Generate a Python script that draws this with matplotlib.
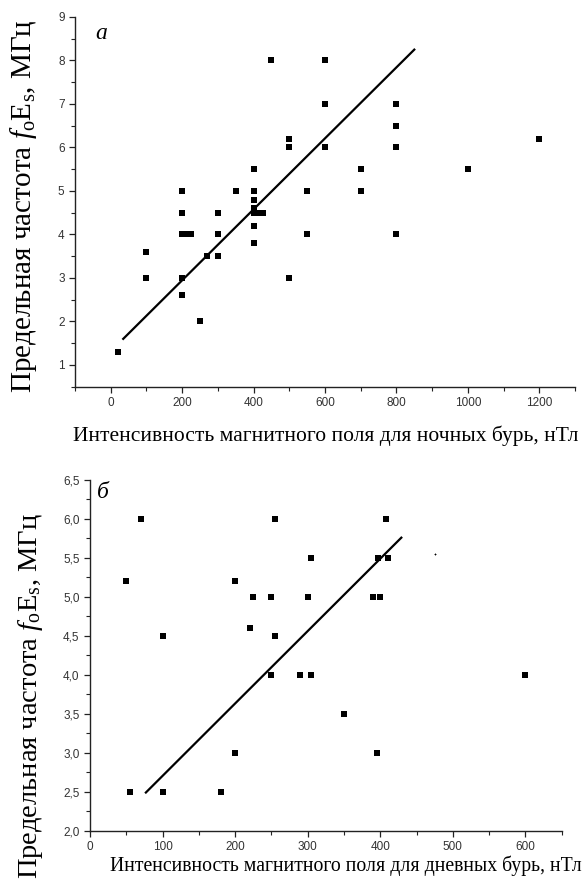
import numpy as np
import matplotlib
matplotlib.use("Agg")
import matplotlib.pyplot as plt
from matplotlib.ticker import MultipleLocator, FixedLocator

plt.rcParams['font.family'] = ['Liberation Serif', 'DejaVu Serif']
plt.rcParams['mathtext.fontset'] = 'custom'
plt.rcParams['mathtext.rm'] = 'Liberation Serif'
plt.rcParams['mathtext.it'] = 'Liberation Serif:italic'

# (a) night storms
night_x = [20, 100, 100, 200, 200, 200, 212, 225, 200, 200, 250, 270, 300, 300, 300,
           350, 400, 400, 400, 400, 400, 412, 425, 400, 400, 450, 500, 500, 500,
           550, 550, 600, 600, 600, 700, 700, 800, 800, 800, 800, 1000, 1200]
night_y = [1.3, 3.6, 3.0, 5.0, 4.5, 4.0, 4.0, 4.0, 3.0, 2.6, 2.0, 3.5, 4.5, 4.0, 3.5,
           5.0, 5.5, 5.0, 4.8, 4.6, 4.5, 4.5, 4.5, 4.2, 3.8, 8.0, 6.2, 6.0, 3.0,
           5.0, 4.0, 8.0, 7.0, 6.0, 5.5, 5.0, 7.0, 6.5, 6.0, 4.0, 5.5, 6.2]
night_fit_x = [35, 850]
night_fit_y = [1.6, 8.25]

# (б) day storms
day_x = [50, 70, 55, 100, 100, 180, 200, 200, 220, 225, 250, 250, 255, 255,
         290, 300, 305, 305, 350, 397, 408, 410, 390, 400, 395, 600]
day_y = [5.2, 6.0, 2.5, 4.5, 2.5, 2.5, 5.2, 3.0, 4.6, 5.0, 5.0, 4.0, 6.0, 4.5,
         4.0, 5.0, 4.0, 5.5, 3.5, 5.5, 6.0, 5.5, 5.0, 5.0, 3.0, 4.0]
day_speck = ([476], [5.55])
day_fit_x = [77, 429]
day_fit_y = [2.49, 5.76]

xticks_a = [0, 200, 400, 600, 800, 1000, 1200]
yticks_a = [1, 2, 3, 4, 5, 6, 7, 8, 9]
xticks_b = [0, 100, 200, 300, 400, 500, 600]
yticks_b = [2.0, 2.5, 3.0, 3.5, 4.0, 4.5, 5.0, 5.5, 6.0, 6.5]
ylabels_b = ["2,0", "2,5", "3,0", "3,5", "4,0", "4,5", "5,0", "5,5", "6,0", "6,5"]

ylabel = r"Предельная частота $\mathit{f}_{\mathrm{o}}\mathrm{E}_{\mathrm{s}}$, МГц"

W, H = 587, 890
fig = plt.figure(figsize=(W / 100, H / 100), dpi=100)

def px_axes(l, t, r, b):
    return fig.add_axes([l / W, 1 - b / H, (r - l) / W, (b - t) / H])

ax1 = px_axes(75, 17, 575, 386.7)
ax2 = px_axes(90, 480, 561.7, 830.7)

tick_font = dict(family='Liberation Sans', size=8.5, color='#333333')

for ax in (ax1, ax2):
    ax.spines['top'].set_visible(False)
    ax.spines['right'].set_visible(False)
    for s in ('left', 'bottom'):
        ax.spines[s].set_linewidth(1.0)
        ax.spines[s].set_color('#222222')
    ax.tick_params(which='major', direction='out', length=4.5, width=0.9, color='#222222', pad=3)
    ax.tick_params(which='minor', direction='out', length=3, width=0.8, color='#222222')

# top panel
ax1.scatter(night_x, night_y, marker='s', s=24, color='black', linewidths=0, zorder=3)
ax1.plot(night_fit_x, night_fit_y, color='black', lw=1.6)
ax1.set_xlim(-100, 1300)
ax1.set_ylim(0.5, 9)
ax1.xaxis.set_major_locator(FixedLocator(xticks_a))
ax1.xaxis.set_minor_locator(MultipleLocator(100))
ax1.yaxis.set_major_locator(FixedLocator(yticks_a))
ax1.yaxis.set_minor_locator(MultipleLocator(0.5))
ax1.set_xticklabels([str(v) for v in xticks_a], **tick_font)
ax1.set_yticklabels([str(v) for v in yticks_a], **tick_font)
ax1.set_xlabel("Интенсивность магнитного поля для ночных бурь, нТл", fontsize=15.5)
ax1.xaxis.set_label_coords(0.502, -0.106)
ax1.set_ylabel(ylabel, fontsize=21)
ax1.yaxis.set_label_coords(-0.072, 0.489)
ax1.text(0.04, 0.955, "a", transform=ax1.transAxes, fontsize=17, style='italic',
         va='center', ha='left')

# bottom panel
ax2.scatter(day_x, day_y, marker='s', s=24, color='black', linewidths=0, zorder=3)
ax2.scatter(*day_speck, marker='+', s=4, color='black', linewidths=0.6)
ax2.plot(day_fit_x, day_fit_y, color='black', lw=1.6)
ax2.set_xlim(0, 650)
ax2.set_ylim(2.0, 6.5)
ax2.xaxis.set_major_locator(FixedLocator(xticks_b))
ax2.xaxis.set_minor_locator(MultipleLocator(50))
ax2.yaxis.set_major_locator(FixedLocator(yticks_b))
ax2.yaxis.set_minor_locator(MultipleLocator(0.25))
ax2.set_xticklabels([str(v) for v in xticks_b], **tick_font)
ax2.set_yticklabels(ylabels_b, **tick_font)
ax2.set_xlabel("Интенсивность магнитного поля для дневных бурь, нТл", fontsize=14.2)
ax2.xaxis.set_label_coords(0.542, -0.07)
ax2.set_ylabel(ylabel, fontsize=20.5)
ax2.yaxis.set_label_coords(-0.095, 0.385)
ax2.text(0.015, 0.965, "б", transform=ax2.transAxes, fontsize=17, style='italic',
         va='center', ha='left')

fig.savefig("out.png", dpi=100)
